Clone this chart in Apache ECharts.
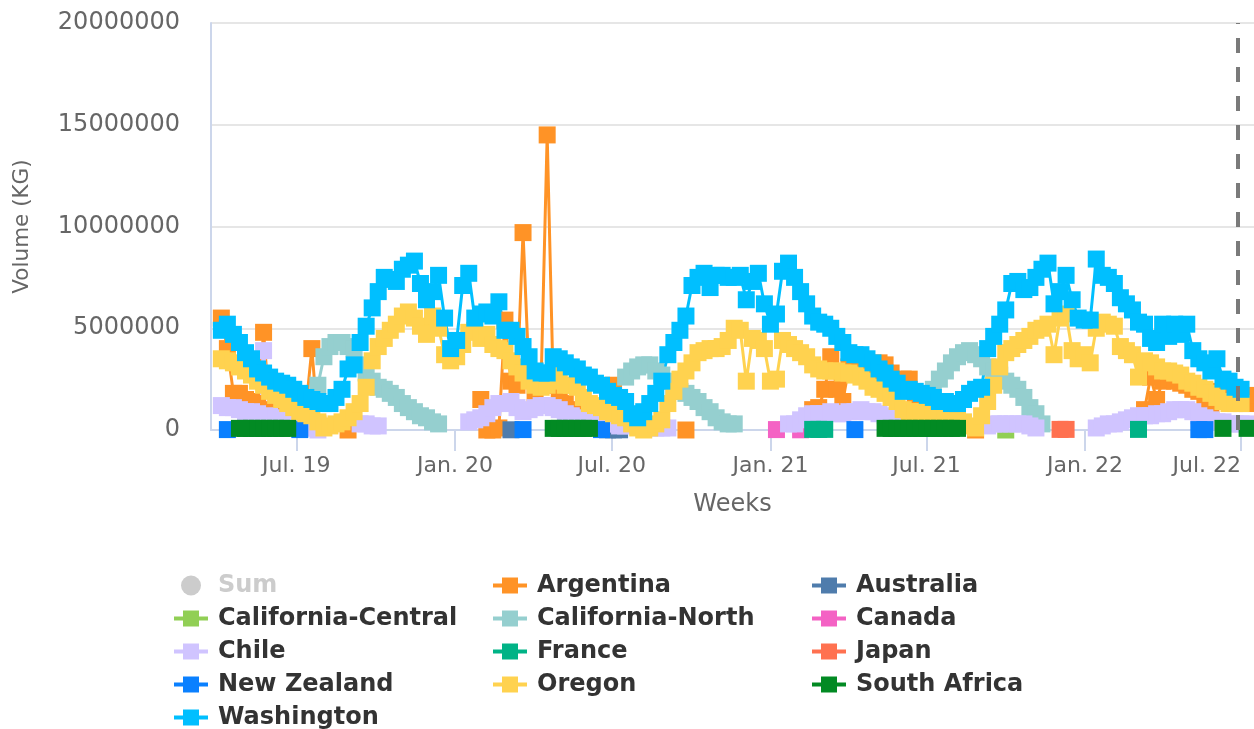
<!DOCTYPE html>
<html>
<head>
<meta charset="utf-8">
<script src="https://cdn.jsdelivr.net/npm/echarts@6/dist/echarts.min.js"></script>
<style>
    html, body { margin: 0; padding: 0; background: #fff; }
    #chart { width: 1254px; height: 729px; }
</style>
</head>
<body>
<div id="chart"></div>
<script>
// weekly volumes, in millions of kg; week 0 = 2019-04-05
var FONT = "'DejaVu Sans', Verdana, sans-serif";
var firstWeek = [2019, 3, 5];
var weekCount = 172;

var tickDates = ['2019-07-01', '2020-01-01', '2020-07-01', '2021-01-01', '2021-07-01', '2022-01-01', '2022-07-01'];
var tickLabels = ['Jul. 19', 'Jan. 20', 'Jul. 20', 'Jan. 21', 'Jul. 21', 'Jan. 22', 'Jul. 22'];
var plotLineDate = '2022-06-27';

var washington = [
    4.9, 5.2, 4.7, 4.3, 3.8, 3.5, 3.0, 2.8, 2.6, 2.4, 2.3, 2.2, 2.0, 1.8, 1.6, 1.5, 1.4, 1.3, 1.3, 1.6,
    2.0, 3.0, 3.2, 4.3, 5.1, 6.0, 6.8, 7.5, 7.4, 7.3, 7.9, 8.1, 8.3, 7.2, 6.4, 6.8, 7.6, 5.5, 4.0, 4.4,
    7.1, 7.7, 5.5, 5.7, 5.8, 5.6, 6.3, 4.9, 4.9, 4.6, 4.1, 3.6, 2.9, 2.8, 2.8, 3.6, 3.5, 3.3, 3.1, 3.0,
    2.7, 2.6, 2.3, 2.2, 1.9, 1.7, 1.6, 1.4, 0.8, 0.6, 0.9, 1.3, 1.8, 2.4, 3.7, 4.3, 4.9, 5.6, 7.1, 7.5,
    7.7, 7.0, 7.6, 7.6, 7.5, 7.5, 7.6, 6.4, 7.3, 7.7, 6.2, 5.2, 5.7, 7.8, 8.2, 7.5, 6.8, 6.2, 5.6,
    5.3, 5.2, 5.0, 4.6, 4.3, 3.8, 3.7, 3.7, 3.5, 3.3, 3.0, 2.8, 2.5, 2.3, 1.9, 2.0, 1.9, 1.8, 1.7, 1.6,
    1.4, 1.4, 1.3, 1.3, 1.5, 1.8, 2.0, 2.1, 4.0, 4.6, 5.2, 5.9, 7.2, 7.3, 6.9, 7.0, 7.5, 7.9, 8.2, 6.2,
    6.8, 7.6, 6.4, 5.5, 5.4, 5.4, 8.4, 7.6, 7.5, 7.2, 6.5, 6.2, 5.9, 5.3, 5.2, 4.5, 4.3, 5.2, 4.6, 5.2,
    4.7, 5.2, 3.9, 3.5, 3.3, 2.9, 3.5, 2.5, 2.4, 2.1, 2.0
];

var oregon = [
    3.5, 3.4, 3.3, 3.1, 2.9, 2.7, 2.4, 2.2, 1.9, 1.7, 1.5, 1.3, 1.1, 0.9, 0.8, 0.7, 0.4, 0.1, 0.2, 0.3,
    0.4, 0.6, 0.9, 1.3, 2.1, 3.4, 4.1, 4.5, 4.9, 5.2, 5.6, 5.8, 5.5, 5.1, 4.7, 5.6, 5.0, 3.7, 3.4, 3.6,
    4.2, 4.8, 4.9, 4.5, 4.7, 4.2, 4.0, 3.9, 3.4, 3.1, 2.8, 2.4, 2.2, 2.1, 2.2, 2.4, 2.8, 2.2, 2.2, 2.1,
    1.6, 1.3, 1.2, 1.1, 0.9, 0.8, 0.7, 0.6, 0.3, 0.1, 0.0, 0.1, 0.3, 0.5, 1.3, 1.9, 2.5, 2.9, 3.3, 3.8,
    3.9, 4.0, 4.0, 4.1, 4.4, 5.0, 4.9, 2.4, 4.5, 4.4, 4.0, 2.4, 2.5, 4.4, 4.2, 4.0, 3.8, 3.6, 3.2,
    3.0, 2.9, 2.9, 2.9, 2.8, 2.8, 2.7, 2.6, 2.4, 2.1, 2.0, 1.8, 1.6, 1.4, 1.0, 0.9, 0.9, 0.9, 0.8, 0.8,
    0.7, 0.6, 0.5, 0.5, 0.4, 0.2, 0.1, 0.7, 1.4, 2.2, 3.1, 3.8, 4.0, 4.2, 4.4, 4.6, 4.9, 5.0, 5.2, 3.7,
    5.5, 5.7, 3.9, 3.5, 3.7, 3.3, 5.0, 5.3, 5.2, 5.1, 4.1, 3.9, 3.7, 2.6, 3.4, 3.3, 3.1, 2.9, 2.9, 2.8,
    2.7, 2.4, 2.3, 2.1, 2.0, 1.8, 1.6, 1.4, 1.3, 1.3, 1.3
];

// seasonal series: [first week index, weekly values]
var argentina = [
    [0, [5.5, 4.0, 1.8, 1.8, 1.5, 1.4, 1.3, 4.8, 1.0, 0.9, 0.6, 0.5, 0.4, 0.3, 1.0, 4.0, 0.3]],
    [21, [0.0]],
    [43, [1.5, 0.0, 0.0, 0.1, 5.4, 2.4, 2.2, 9.7, 2.6, 1.7, 2.4, 14.5, 2.2, 1.6, 1.3, 1.0, 0.8, 0.7, 0.6, 0.6, 0.6, 0.7, 2.2, 0.4]],
    [77, [0.0]],
    [98, [1.0, 1.1, 2.0, 3.6, 2.0, 1.4, 3.1, 3.1, 3.1, 3.0, 2.9, 3.3, 3.2, 2.8, 2.4, 2.5, 2.5, 1.2, 1.0, 0.9, 0.7, 0.7, 0.6]],
    [125, [0.0]],
    [152, [0.3, 1.0, 2.6, 1.5, 2.4, 2.5, 2.4, 2.3, 2.2, 2.0, 1.9, 1.1, 1.0, 1.9, 1.8, 1.6, 1.5, 1.4, 1.3, 1.7]]
];
var australia = [[48, [0.01]], [64, [0.01, 0.01, 0.01]]];
var californiaCentral = [[130, [0.0]]];
var californiaNorth = [
    [16, [2.2, 3.6, 4.1, 4.3, 4.3, 4.1, 4.0, 3.2, 2.8, 2.4, 2.1, 2.0, 1.8, 1.6, 1.3, 1.1, 0.9, 0.7, 0.6, 0.4, 0.3]],
    [67, [2.6, 2.9, 3.1, 3.2, 3.2, 2.9, 2.7, 2.4, 2.0, 1.9, 1.8, 1.6, 1.4, 1.1, 0.9, 0.6, 0.4, 0.3, 0.3]],
    [118, [2.0, 2.5, 2.9, 3.3, 3.6, 3.8, 3.9, 3.7, 3.5, 3.1, 2.9, 2.7, 2.4, 2.2, 2.0, 1.6, 1.1, 0.8, 0.3]]
];
var canada = [[92, [0.02]], [96, [0.01]]];
var chile = [
    [0, [1.2, 1.1, 1.1, 1.0, 0.9, 0.9, 0.8, 3.9, 0.7, 0.6, 0.5, 0.5, 0.4, 0.3, 0.1, 0.1, 0.0]],
    [23, [0.3, 0.3, 0.2, 0.2]],
    [41, [0.4, 0.5, 0.6, 0.8, 1.1, 1.3, 1.3, 1.4, 1.1, 0.9, 1.0, 1.1, 1.2, 1.2, 1.1, 1.0, 0.8, 0.7, 0.6, 0.5, 0.4, 0.3, 0.2, 0.3, 0.3, 0.2, 0.2]],
    [71, [0.1, 0.1, 0.1, 0.1]],
    [94, [0.3, 0.3, 0.5, 0.7, 0.8, 0.8, 0.8, 0.9, 0.8, 0.8, 0.9, 0.9, 1.0, 0.9, 0.9, 0.8, 0.7, 0.6, 0.5, 0.4, 0.3, 0.2, 0.2, 0.1, 0.1]],
    [127, [0.2, 0.3, 0.3, 0.3, 0.3, 0.3, 0.3, 0.2, 0.1]],
    [145, [0.1, 0.2, 0.3, 0.3, 0.4, 0.5, 0.6, 0.7, 0.7, 0.7, 0.8, 0.8, 0.9, 1.0, 1.0, 1.0, 0.9, 0.7, 0.6, 0.5, 0.4, 0.4, 0.3, 0.3, 0.3, 0.3]]
];
var france = [[98, [0.03, 0.03, 0.03]], [152, [0.03]]];
var japan = [[139, [0.03, 0.03]]];
var newZealand = [[1, [0.02]], [13, [0.02]], [50, [0.02]], [63, [0.02]], [105, [0.02]], [162, [0.02, 0.02]]];
var southAfrica = [
    [3, [0.08, 0.08, 0.08, 0.08, 0.08, 0.08, 0.08, 0.08, 0.08]],
    [55, [0.08, 0.08, 0.08, 0.08, 0.08, 0.08, 0.08]],
    [110, [0.08, 0.08, 0.08, 0.08, 0.08, 0.08, 0.08, 0.08, 0.08, 0.08, 0.08, 0.08, 0.08]],
    [166, [0.08]],
    [170, [0.08]]
];

var seriesList = [
    { name: 'Argentina', color: '#ff9326', values: argentina },
    { name: 'Australia', color: '#4f7cac', values: australia },
    { name: 'California-Central', color: '#91cf55', values: californiaCentral },
    { name: 'California-North', color: '#95cfcf', values: californiaNorth },
    { name: 'Canada', color: '#f462c4', values: canada },
    { name: 'Chile', color: '#d0c4ff', values: chile },
    { name: 'France', color: '#00b386', values: france },
    { name: 'Japan', color: '#ff7150', values: japan },
    { name: 'New Zealand', color: '#0a80ff', values: newZealand },
    { name: 'Oregon', color: '#ffd24f', values: oregon },
    { name: 'South Africa', color: '#028a23', values: southAfrica },
    { name: 'Washington', color: '#00bfff', values: washington }
];

function toTime(str) {
    var p = str.split('-');
    return new Date(+p[0], +p[1] - 1, +p[2]).getTime();
}

function weekTime(i) {
    return new Date(firstWeek[0], firstWeek[1], firstWeek[2] + 7 * i).getTime();
}

// full weekly list, '-' where a series has no value
function weekly(values) {
    var out = [];
    for (var i = 0; i < weekCount; i++) out.push('-');
    if (typeof values[0] === 'number') {
        values.forEach((v, i) => { out[i] = v; });
    } else {
        values.forEach(seg => {
            seg[1].forEach((v, k) => { out[seg[0] + k] = v; });
        });
    }
    return out.map((v, i) => [weekTime(i), v === '-' ? '-' : v * 1e6]);
}

var tickTimes = tickDates.map(toTime);

var series = [{
    name: 'Sum', type: 'line', data: [],
    itemStyle: { color: '#cccccc' }
}];
seriesList.forEach(s => {
    series.push({
        name: s.name,
        type: 'line',
        data: weekly(s.values),
        symbol: 'rect',
        symbolSize: 17,
        showAllSymbol: true,
        connectNulls: false,
        itemStyle: { color: s.color },
        lineStyle: { color: s.color, width: 3 },
        emphasis: { disabled: true }
    });
});
series[series.length - 1].markLine = {
    silent: true,
    symbol: ['none', 'none'],
    label: { show: false },
    lineStyle: { color: '#7a7a7a', width: 4, type: [15, 14] },
    data: [{ xAxis: toTime(plotLineDate) }]
};

var chart = echarts.init(document.getElementById('chart'));
chart.setOption({
    animation: false,
    textStyle: { fontFamily: FONT },
    grid: { left: 211, right: 0, top: 23, bottom: 299, containLabel: false },
    legend: {
        left: 167,
        top: 564,
        width: 960,
        itemWidth: 34,
        itemHeight: 20,
        itemGap: 0,
        inactiveColor: '#cccccc',
        selected: { Sum: false },
        lineStyle: { width: 4 },
        textStyle: {
            fontFamily: FONT, fontWeight: 'bold', fontSize: 24, color: '#333333',
            width: 273, lineHeight: 33, padding: [0, 0, 0, 5]
        },
        data: [{ name: 'Sum', icon: 'circle' }].concat(seriesList.map(s => s.name))
    },
    xAxis: {
        type: 'value',
        min: toTime('2019-03-24'),
        max: toTime('2022-07-16'),
        name: 'Weeks',
        nameLocation: 'middle',
        nameGap: 63,
        nameTextStyle: { color: '#666666', fontSize: 24, fontFamily: FONT },
        axisLine: { lineStyle: { color: '#ccd6eb', width: 2 } },
        axisTick: { show: true, length: 21, customValues: tickTimes, lineStyle: { color: '#ccd6eb', width: 2 } },
        axisLabel: {
            customValues: tickTimes,
            color: '#666666', fontSize: 22, margin: 25, fontFamily: FONT,
            alignMaxLabel: 'right',
            formatter: v => tickLabels[tickTimes.indexOf(v)] || ''
        },
        splitLine: { show: false }
    },
    yAxis: {
        type: 'value',
        min: 0,
        max: 20000000,
        interval: 5000000,
        name: 'Volume (KG)',
        nameLocation: 'middle',
        nameRotate: 90,
        nameGap: 178,
        nameTextStyle: { color: '#666666', fontSize: 21.5, fontFamily: FONT },
        axisLine: { show: true, lineStyle: { color: '#ccd6eb', width: 2 } },
        axisTick: { show: false },
        axisLabel: { color: '#666666', fontSize: 24, margin: 31, fontFamily: FONT, formatter: v => String(v) },
        splitLine: { lineStyle: { color: '#e6e6e6', width: 2 } }
    },
    series: series
});
</script>
</body>
</html>
